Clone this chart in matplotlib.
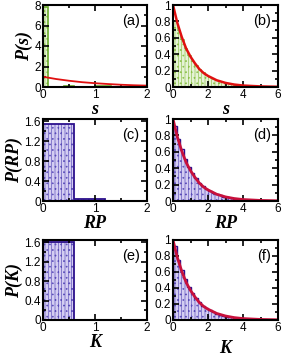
import matplotlib
matplotlib.use('Agg')
import matplotlib.pyplot as plt
from matplotlib.ticker import MultipleLocator, FormatStrFormatter
import numpy as np

""" ****** values read off the picture ****** """

# left column: coarse histograms
s_edges = [0, 0.1, 0.4, 0.6, 1.0, 1.3, 1.5, 2.0]
s_heights = [7.8, 0.0, 0.09, 0.0, 0.05, 0.03, 0.0]
rp_edges = [0, 0.6, 1.2, 1.8, 2.0]
rp_heights = [1.55, 0.04, 0.01, 0.0]
k_edges = [0, 0.6, 1.2, 2.0]
k_heights = [1.6, 0.01, 0.0]

# right column: fine histograms, bin width 0.2 from 0 to 6
fine_edges = [round(0.2 * i, 1) for i in range(31)]
s_fine = [0.82, 0.70, 0.58, 0.48, 0.39, 0.32, 0.27, 0.22, 0.18, 0.15,
          0.12, 0.10, 0.08, 0.07, 0.06, 0.05, 0.04, 0.03, 0.02, 0.02,
          0.015, 0.01, 0.01, 0.008, 0.006, 0.005, 0.004, 0.003, 0.002, 0.002]
rp_fine = [0.92, 0.76, 0.64, 0.51, 0.42, 0.34, 0.28, 0.22, 0.18, 0.15,
           0.12, 0.10, 0.08, 0.07, 0.05, 0.045, 0.035, 0.03, 0.025, 0.02,
           0.015, 0.012, 0.01, 0.008, 0.006, 0.005, 0.004, 0.003, 0.002, 0.002]
k_fine = [0.92, 0.75, 0.62, 0.51, 0.41, 0.34, 0.27, 0.22, 0.18, 0.15,
          0.12, 0.10, 0.08, 0.065, 0.05, 0.04, 0.035, 0.03, 0.02, 0.02,
          0.015, 0.012, 0.01, 0.008, 0.006, 0.005, 0.004, 0.003, 0.002, 0.002]

# red curve (same shape in every panel)
curve_x = [0, 0.25, 0.5, 0.75, 1.0, 1.25, 1.5, 1.75, 2.0, 2.5, 3.0, 3.5, 4.0, 5.0, 6.0]
curve_y = [1.0, 0.78, 0.61, 0.47, 0.37, 0.29, 0.22, 0.17, 0.135, 0.082, 0.05, 0.03, 0.018, 0.007, 0.0025]

""" ****** style ****** """
plt.rcParams['font.family'] = ['Liberation Sans', 'DejaVu Sans']
plt.rcParams['hatch.linewidth'] = 0.45

green_face = '#e6f3d6'
green_hatch = '#8cc04a'
blue_face = '#d4cdf2'
blue_hatch = '#5a4cb8'
blue_edge = '#2b0f8c'

fig = plt.figure(figsize=(2.83, 3.56), dpi=100)

W = 283.0
H = 356.0
def make_ax(x0, x1, y0, y1):
    return fig.add_axes([x0 / W, 1 - y1 / H, (x1 - x0) / W, (y1 - y0) / H])

rows = [(5, 87), (119, 201), (240, 320)]
cols = [(43, 147), (173, 278)]

def style(ax, xmaj, xmin, ymaj, ymin):
    ax.xaxis.set_major_locator(MultipleLocator(xmaj))
    ax.xaxis.set_minor_locator(MultipleLocator(xmin))
    ax.yaxis.set_major_locator(MultipleLocator(ymaj))
    ax.yaxis.set_minor_locator(MultipleLocator(ymin))
    ax.xaxis.set_major_formatter(FormatStrFormatter('%g'))
    ax.yaxis.set_major_formatter(FormatStrFormatter('%g'))
    ax.tick_params(which='both', direction='in', top=True, right=True,
                   labelsize=8.5, pad=1.5, width=1.2)
    ax.tick_params(which='major', length=4)
    ax.tick_params(which='minor', length=2.5)
    for sp in ax.spines.values():
        sp.set_linewidth(1.5)

label_font = dict(family='Liberation Serif', weight='bold', style='italic', size=13)

def hist(ax, edges, heights, face, hatch_col, edge_col, lw):
    edges = np.array(edges)
    ax.bar(edges[:-1], heights, width=np.diff(edges), align='edge',
           color=face, edgecolor=hatch_col, hatch='|||||...', linewidth=0)
    ax.stairs(heights, edges, color=edge_col, linewidth=lw)

def panel_label(ax, txt):
    ax.text(0.93, 0.8, txt, transform=ax.transAxes, ha='right', va='center', fontsize=10.5)

# (a)
ax = make_ax(cols[0][0], cols[0][1], *rows[0])
hist(ax, s_edges, s_heights, green_face, green_hatch, '#6aaa2a', 1.2)
ax.plot(curve_x, curve_y, color='#e01010', lw=1.3)
ax.set_xlim(0, 2)
ax.set_ylim(0, 8)
style(ax, 1, 0.5, 2, 1)
ax.set_ylabel('P(s)', fontdict=label_font, labelpad=1)
ax.set_xlabel('s', fontdict=label_font, labelpad=0)
panel_label(ax, '(a)')

# (b)
ax = make_ax(cols[1][0], cols[1][1], *rows[0])
hist(ax, fine_edges, s_fine, green_face, green_hatch, '#8cc04a', 0.6)
ax.plot(curve_x, curve_y, color='#e01010', lw=1.8)
ax.set_xlim(0, 6)
ax.set_ylim(0, 1)
style(ax, 2, 1, 0.2, 0.1)
ax.set_xlabel('s', fontdict=label_font, labelpad=0)
panel_label(ax, '(b)')

# (c)
ax = make_ax(cols[0][0], cols[0][1], *rows[1])
hist(ax, rp_edges, rp_heights, blue_face, blue_hatch, blue_edge, 1.3)
ax.set_xlim(0, 2)
ax.set_ylim(0, 1.65)
style(ax, 1, 0.5, 0.4, 0.2)
ax.set_ylabel('P(RP)', fontdict=label_font, labelpad=1)
ax.set_xlabel('RP', fontdict=label_font, labelpad=0)
panel_label(ax, '(c)')

# (d)
ax = make_ax(cols[1][0], cols[1][1], *rows[1])
hist(ax, fine_edges, rp_fine, blue_face, blue_hatch, blue_edge, 1.0)
ax.plot(curve_x, curve_y, color='#c8103c', lw=2.0)
ax.set_xlim(0, 6)
ax.set_ylim(0, 1)
style(ax, 2, 1, 0.2, 0.1)
ax.set_xlabel('RP', fontdict=label_font, labelpad=0)
panel_label(ax, '(d)')

# (e)
ax = make_ax(cols[0][0], cols[0][1], *rows[2])
hist(ax, k_edges, k_heights, blue_face, blue_hatch, blue_edge, 1.3)
ax.set_xlim(0, 2)
ax.set_ylim(0, 1.65)
style(ax, 1, 0.5, 0.4, 0.2)
ax.set_ylabel('P(K)', fontdict=label_font, labelpad=1)
ax.set_xlabel('K', fontdict=label_font, labelpad=0)
panel_label(ax, '(e)')

# (f)
ax = make_ax(cols[1][0], cols[1][1], *rows[2])
hist(ax, fine_edges, k_fine, blue_face, blue_hatch, blue_edge, 1.0)
ax.plot(curve_x, curve_y, color='#c8103c', lw=2.0)
ax.set_xlim(0, 6)
ax.set_ylim(0, 1)
style(ax, 2, 1, 0.2, 0.1)
ax.set_xlabel('K', fontdict=label_font, labelpad=4)
panel_label(ax, '(f)')

fig.savefig('out.png', dpi=100)
